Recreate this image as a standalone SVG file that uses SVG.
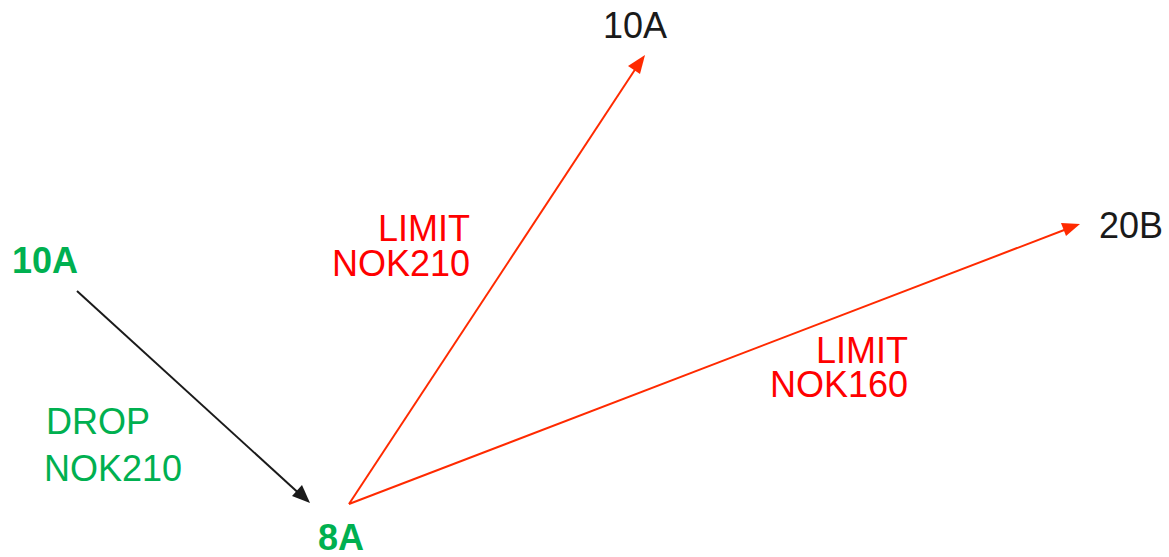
<svg xmlns="http://www.w3.org/2000/svg" width="1169" height="557" viewBox="0 0 1169 557">
<style>
text{font-family:"Liberation Sans",Arial,sans-serif;font-size:36px}
.g{fill:#00B050}
.gb{fill:#00B050;font-weight:bold}
.k{fill:#1a1a1a}
.r{fill:#FF0000}
.lk{stroke:#1a1a1a;stroke-width:2;fill:none}
.lr{stroke:#FF2A00;stroke-width:2;fill:none}
.hk{fill:#1a1a1a}
.hr{fill:#FF2A00}
</style>
<g id="connectors">
<line class="lk" x1="77" y1="291" x2="304" y2="498"/>
<line class="lr" x1="349" y1="504" x2="640" y2="62"/>
<line class="lr" x1="349" y1="504" x2="1072" y2="227"/>
<path class="hk" d="M310,503 L292,496 L302,485 z"/>
<path class="hr" d="M645,55 L640,74 L628,66 z"/>
<path class="hr" d="M1080,224 L1066,236 L1061,223 z"/>
</g>
<g id="node-10A-src"><text class="gb" x="12" y="273">10A</text></g>
<g id="node-8A"><text class="gb" x="318" y="550">8A</text></g>
<g id="node-10A-dst"><text class="k" x="603" y="38">10A</text></g>
<g id="node-20B"><text class="k" x="1099" y="238">20B</text></g>
<g id="label-drop"><text class="g" x="46" y="434">DROP</text><text class="g" x="44" y="481">NOK210</text></g>
<g id="label-limit210"><text class="r" x="470" y="241" text-anchor="end">LIMIT</text><text class="r" x="470" y="276" text-anchor="end">NOK210</text></g>
<g id="label-limit160"><text class="r" x="908" y="363" text-anchor="end">LIMIT</text><text class="r" x="908" y="397" text-anchor="end">NOK160</text></g>
</svg>
